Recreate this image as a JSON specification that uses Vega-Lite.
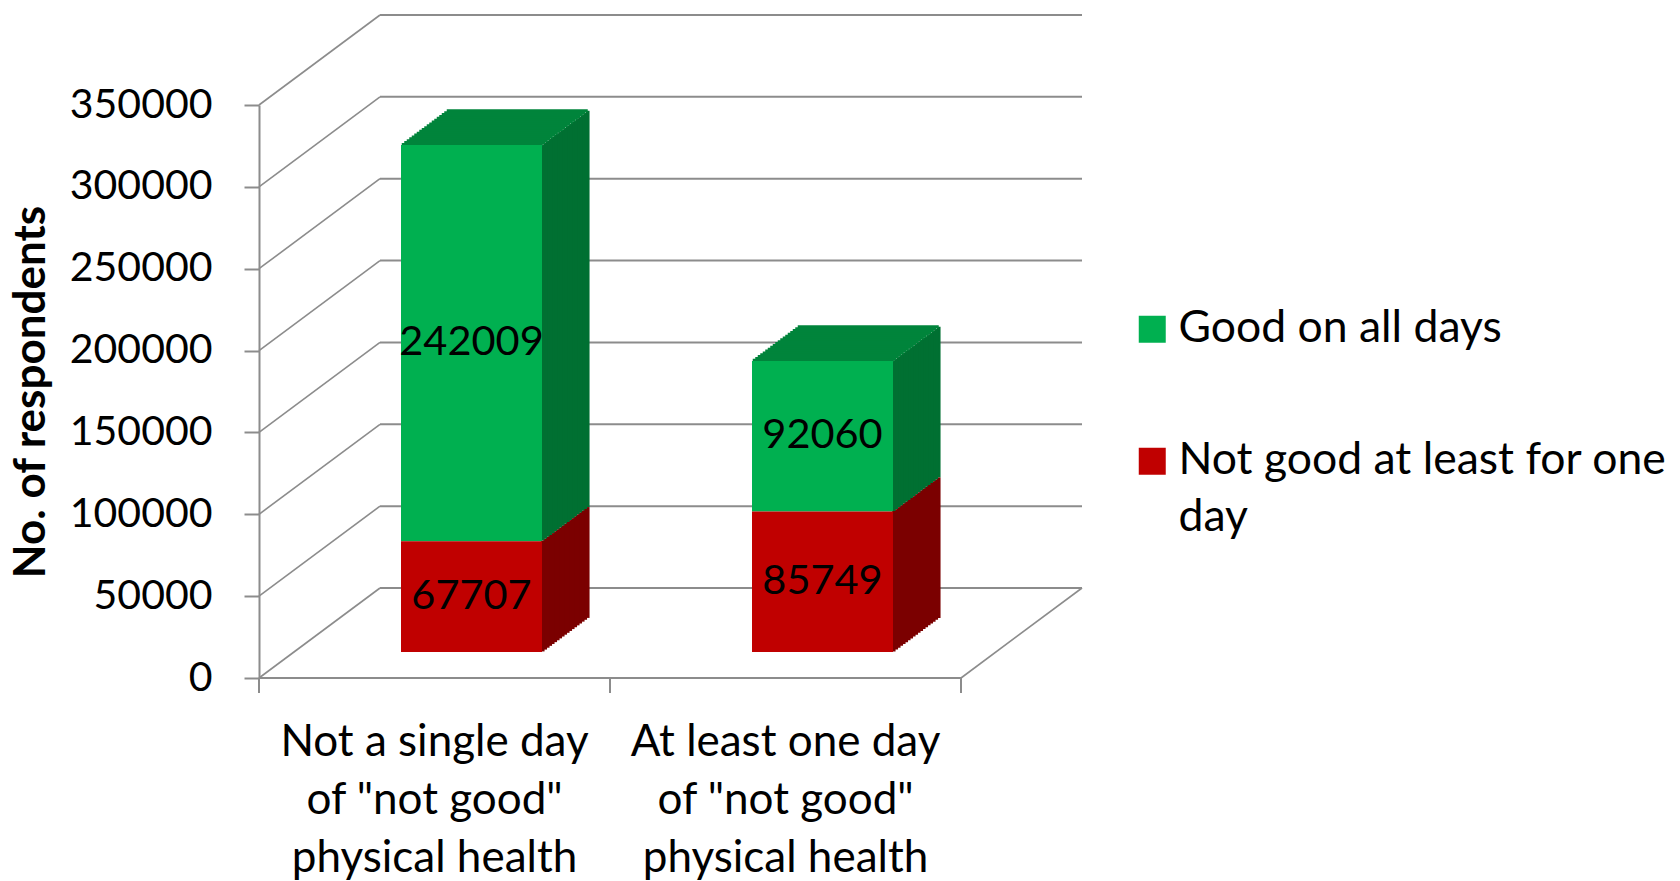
{
  "$schema": "https://vega.github.io/schema/vega-lite/v6.json",
  "width": 702,
  "height": 573,
  "autosize": {"type": "none"},
  "padding": {"left": 259, "top": 105, "right": 719, "bottom": 203},
  "background": "white",
  "config": {"view": {"stroke": null}, "font": "Lato", "axis": {"grid": false}, "style": {"guide-label": {"lineHeight": 57}}},
  "datasets": {
    "counts": [
      {"category": "Not a single day\nof \"not good\"\nphysical health", "status": "Good on all days", "count": 242009},
      {"category": "Not a single day\nof \"not good\"\nphysical health", "status": "Not good at least for one day", "count": 67707},
      {"category": "At least one day\nof \"not good\"\nphysical health", "status": "Good on all days", "count": 92060},
      {"category": "At least one day\nof \"not good\"\nphysical health", "status": "Not good at least for one day", "count": 85749}
    ],
    "walls": [{"v": 0}, {"v": 50000}, {"v": 100000}, {"v": 150000}, {"v": 200000}, {"v": 250000}, {"v": 300000}, {"v": 350000}]
  },
  "data": {"name": "counts"},
  "transform": [
    {"stack": "count", "groupby": ["category"], "sort": [{"field": "status", "order": "descending"}], "as": ["y0", "y1"]},
    {"calculate": "(datum.y0 + datum.y1) / 2", "as": "ymid"}
  ],
  "encoding": {
    "x": {"field": "category", "type": "nominal",
          "sort": ["Not a single day\nof \"not good\"\nphysical health", "At least one day\nof \"not good\"\nphysical health"],
          "scale": {"paddingInner": 0, "paddingOuter": 0},
          "axis": null}
  },
  "layer": [
    {"data": {"name": "walls"},
     "mark": {"type": "rule", "xOffset": 121, "x2Offset": 121, "yOffset": -90, "color": "#8c8c8c", "strokeWidth": 2},
     "encoding": {"x": {"datum": "Not a single day\nof \"not good\"\nphysical health", "type": "nominal", "bandPosition": 0, "axis": null},
                  "x2": {"datum": "At least one day\nof \"not good\"\nphysical health", "bandPosition": 1},
                  "y": {"field": "v", "type": "quantitative", "scale": {"domain": [0, 350000], "nice": false}}}},
    {"data": {"name": "walls"},
     "mark": {"type": "rule", "x2Offset": 121, "y2Offset": -90, "color": "#8c8c8c", "strokeWidth": 1.6},
     "encoding": {"x": {"datum": "Not a single day\nof \"not good\"\nphysical health", "type": "nominal", "bandPosition": 0, "axis": null},
                  "x2": {"datum": "Not a single day\nof \"not good\"\nphysical health", "bandPosition": 0},
                  "y": {"field": "v", "type": "quantitative"}, "y2": {"field": "v"}}},
    {"data": {"name": "walls"},
     "transform": [{"filter": "datum.v == 0"}],
     "mark": {"type": "rule", "x2Offset": 121, "y2Offset": -90, "color": "#8c8c8c", "strokeWidth": 1.6},
     "encoding": {"x": {"datum": "At least one day\nof \"not good\"\nphysical health", "type": "nominal", "bandPosition": 1, "axis": null},
                  "x2": {"datum": "At least one day\nof \"not good\"\nphysical health", "bandPosition": 1},
                  "y": {"field": "v", "type": "quantitative"}, "y2": {"field": "v"}}},
    {"data": {"name": "walls"},
     "transform": [{"filter": "datum.v == 0"}],
     "mark": {"type": "rule", "color": "#8c8c8c", "strokeWidth": 2},
     "encoding": {"x": {"datum": "Not a single day\nof \"not good\"\nphysical health", "type": "nominal", "bandPosition": 0, "axis": null},
                  "x2": {"datum": "At least one day\nof \"not good\"\nphysical health", "bandPosition": 1},
                  "y": {"field": "v", "type": "quantitative"}}},
    {"data": {"name": "walls"},
     "transform": [{"filter": "datum.v == 0"}],
     "mark": {"type": "rule", "y2Offset": 15, "color": "#8c8c8c", "strokeWidth": 2},
     "encoding": {"x": {"datum": "Not a single day\nof \"not good\"\nphysical health", "type": "nominal", "bandPosition": 0, "axis": null},
                  "y": {"field": "v", "type": "quantitative"}, "y2": {"field": "v"}}},
    {"data": {"name": "walls"},
     "transform": [{"filter": "datum.v == 0"}],
     "mark": {"type": "rule", "y2Offset": 15, "color": "#8c8c8c", "strokeWidth": 2},
     "encoding": {"x": {"datum": "At least one day\nof \"not good\"\nphysical health", "type": "nominal", "bandPosition": 0, "axis": null},
                  "y": {"field": "v", "type": "quantitative"}, "y2": {"field": "v"}}},
    {"data": {"name": "walls"},
     "transform": [{"filter": "datum.v == 0"}],
     "mark": {"type": "rule", "y2Offset": 15, "color": "#8c8c8c", "strokeWidth": 2},
     "encoding": {"x": {"datum": "At least one day\nof \"not good\"\nphysical health", "type": "nominal", "bandPosition": 1, "axis": null},
                  "y": {"field": "v", "type": "quantitative"}, "y2": {"field": "v"}}},
    {"transform": [{"filter": "datum.status == 'Good on all days'"}],
     "mark": {"type": "text", "font": "Lato", "fontSize": 44, "color": "black", "align": "center", "baseline": "alphabetic", "lineBreak": "\n", "lineHeight": 58, "dy": 78},
     "encoding": {"y": {"datum": 0, "type": "quantitative"}, "text": {"field": "category", "type": "nominal"}}},
    {"mark": {"type": "rule", "xOffset": 153.25, "yOffset": -60.08, "y2Offset": -60.08, "strokeWidth": 3.6}, "encoding": {"y": {"field": "y0", "type": "quantitative"}, "y2": {"field": "y1"}, "color": {"condition": {"test": "datum.status == 'Good on all days'", "value": "#007032"}, "value": "#7B0000"}}},
    {"transform": [{"filter": "datum.status == 'Good on all days'"}], "mark": {"type": "tick", "orient": "horizontal", "size": 141, "thickness": 3, "opacity": 1, "xOffset": 82.75, "yOffset": -60.08, "color": "#00843B"}, "encoding": {"y": {"field": "y1", "type": "quantitative"}}},
    {"mark": {"type": "rule", "xOffset": 150.75, "yOffset": -58.22, "y2Offset": -58.22, "strokeWidth": 3.6}, "encoding": {"y": {"field": "y0", "type": "quantitative"}, "y2": {"field": "y1"}, "color": {"condition": {"test": "datum.status == 'Good on all days'", "value": "#007032"}, "value": "#7B0000"}}},
    {"transform": [{"filter": "datum.status == 'Good on all days'"}], "mark": {"type": "tick", "orient": "horizontal", "size": 141, "thickness": 3, "opacity": 1, "xOffset": 80.25, "yOffset": -58.22, "color": "#00843B"}, "encoding": {"y": {"field": "y1", "type": "quantitative"}}},
    {"mark": {"type": "rule", "xOffset": 148.25, "yOffset": -56.36, "y2Offset": -56.36, "strokeWidth": 3.6}, "encoding": {"y": {"field": "y0", "type": "quantitative"}, "y2": {"field": "y1"}, "color": {"condition": {"test": "datum.status == 'Good on all days'", "value": "#007032"}, "value": "#7B0000"}}},
    {"transform": [{"filter": "datum.status == 'Good on all days'"}], "mark": {"type": "tick", "orient": "horizontal", "size": 141, "thickness": 3, "opacity": 1, "xOffset": 77.75, "yOffset": -56.36, "color": "#00843B"}, "encoding": {"y": {"field": "y1", "type": "quantitative"}}},
    {"mark": {"type": "rule", "xOffset": 145.75, "yOffset": -54.5, "y2Offset": -54.5, "strokeWidth": 3.6}, "encoding": {"y": {"field": "y0", "type": "quantitative"}, "y2": {"field": "y1"}, "color": {"condition": {"test": "datum.status == 'Good on all days'", "value": "#007032"}, "value": "#7B0000"}}},
    {"transform": [{"filter": "datum.status == 'Good on all days'"}], "mark": {"type": "tick", "orient": "horizontal", "size": 141, "thickness": 3, "opacity": 1, "xOffset": 75.25, "yOffset": -54.5, "color": "#00843B"}, "encoding": {"y": {"field": "y1", "type": "quantitative"}}},
    {"mark": {"type": "rule", "xOffset": 143.25, "yOffset": -52.63, "y2Offset": -52.63, "strokeWidth": 3.6}, "encoding": {"y": {"field": "y0", "type": "quantitative"}, "y2": {"field": "y1"}, "color": {"condition": {"test": "datum.status == 'Good on all days'", "value": "#007032"}, "value": "#7B0000"}}},
    {"transform": [{"filter": "datum.status == 'Good on all days'"}], "mark": {"type": "tick", "orient": "horizontal", "size": 141, "thickness": 3, "opacity": 1, "xOffset": 72.75, "yOffset": -52.63, "color": "#00843B"}, "encoding": {"y": {"field": "y1", "type": "quantitative"}}},
    {"mark": {"type": "rule", "xOffset": 140.75, "yOffset": -50.77, "y2Offset": -50.77, "strokeWidth": 3.6}, "encoding": {"y": {"field": "y0", "type": "quantitative"}, "y2": {"field": "y1"}, "color": {"condition": {"test": "datum.status == 'Good on all days'", "value": "#007032"}, "value": "#7B0000"}}},
    {"transform": [{"filter": "datum.status == 'Good on all days'"}], "mark": {"type": "tick", "orient": "horizontal", "size": 141, "thickness": 3, "opacity": 1, "xOffset": 70.25, "yOffset": -50.77, "color": "#00843B"}, "encoding": {"y": {"field": "y1", "type": "quantitative"}}},
    {"mark": {"type": "rule", "xOffset": 138.25, "yOffset": -48.91, "y2Offset": -48.91, "strokeWidth": 3.6}, "encoding": {"y": {"field": "y0", "type": "quantitative"}, "y2": {"field": "y1"}, "color": {"condition": {"test": "datum.status == 'Good on all days'", "value": "#007032"}, "value": "#7B0000"}}},
    {"transform": [{"filter": "datum.status == 'Good on all days'"}], "mark": {"type": "tick", "orient": "horizontal", "size": 141, "thickness": 3, "opacity": 1, "xOffset": 67.75, "yOffset": -48.91, "color": "#00843B"}, "encoding": {"y": {"field": "y1", "type": "quantitative"}}},
    {"mark": {"type": "rule", "xOffset": 135.75, "yOffset": -47.05, "y2Offset": -47.05, "strokeWidth": 3.6}, "encoding": {"y": {"field": "y0", "type": "quantitative"}, "y2": {"field": "y1"}, "color": {"condition": {"test": "datum.status == 'Good on all days'", "value": "#007032"}, "value": "#7B0000"}}},
    {"transform": [{"filter": "datum.status == 'Good on all days'"}], "mark": {"type": "tick", "orient": "horizontal", "size": 141, "thickness": 3, "opacity": 1, "xOffset": 65.25, "yOffset": -47.05, "color": "#00843B"}, "encoding": {"y": {"field": "y1", "type": "quantitative"}}},
    {"mark": {"type": "rule", "xOffset": 133.25, "yOffset": -45.18, "y2Offset": -45.18, "strokeWidth": 3.6}, "encoding": {"y": {"field": "y0", "type": "quantitative"}, "y2": {"field": "y1"}, "color": {"condition": {"test": "datum.status == 'Good on all days'", "value": "#007032"}, "value": "#7B0000"}}},
    {"transform": [{"filter": "datum.status == 'Good on all days'"}], "mark": {"type": "tick", "orient": "horizontal", "size": 141, "thickness": 3, "opacity": 1, "xOffset": 62.75, "yOffset": -45.18, "color": "#00843B"}, "encoding": {"y": {"field": "y1", "type": "quantitative"}}},
    {"mark": {"type": "rule", "xOffset": 130.75, "yOffset": -43.32, "y2Offset": -43.32, "strokeWidth": 3.6}, "encoding": {"y": {"field": "y0", "type": "quantitative"}, "y2": {"field": "y1"}, "color": {"condition": {"test": "datum.status == 'Good on all days'", "value": "#007032"}, "value": "#7B0000"}}},
    {"transform": [{"filter": "datum.status == 'Good on all days'"}], "mark": {"type": "tick", "orient": "horizontal", "size": 141, "thickness": 3, "opacity": 1, "xOffset": 60.25, "yOffset": -43.32, "color": "#00843B"}, "encoding": {"y": {"field": "y1", "type": "quantitative"}}},
    {"mark": {"type": "rule", "xOffset": 128.25, "yOffset": -41.46, "y2Offset": -41.46, "strokeWidth": 3.6}, "encoding": {"y": {"field": "y0", "type": "quantitative"}, "y2": {"field": "y1"}, "color": {"condition": {"test": "datum.status == 'Good on all days'", "value": "#007032"}, "value": "#7B0000"}}},
    {"transform": [{"filter": "datum.status == 'Good on all days'"}], "mark": {"type": "tick", "orient": "horizontal", "size": 141, "thickness": 3, "opacity": 1, "xOffset": 57.75, "yOffset": -41.46, "color": "#00843B"}, "encoding": {"y": {"field": "y1", "type": "quantitative"}}},
    {"mark": {"type": "rule", "xOffset": 125.75, "yOffset": -39.6, "y2Offset": -39.6, "strokeWidth": 3.6}, "encoding": {"y": {"field": "y0", "type": "quantitative"}, "y2": {"field": "y1"}, "color": {"condition": {"test": "datum.status == 'Good on all days'", "value": "#007032"}, "value": "#7B0000"}}},
    {"transform": [{"filter": "datum.status == 'Good on all days'"}], "mark": {"type": "tick", "orient": "horizontal", "size": 141, "thickness": 3, "opacity": 1, "xOffset": 55.25, "yOffset": -39.6, "color": "#00843B"}, "encoding": {"y": {"field": "y1", "type": "quantitative"}}},
    {"mark": {"type": "rule", "xOffset": 123.25, "yOffset": -37.73, "y2Offset": -37.73, "strokeWidth": 3.6}, "encoding": {"y": {"field": "y0", "type": "quantitative"}, "y2": {"field": "y1"}, "color": {"condition": {"test": "datum.status == 'Good on all days'", "value": "#007032"}, "value": "#7B0000"}}},
    {"transform": [{"filter": "datum.status == 'Good on all days'"}], "mark": {"type": "tick", "orient": "horizontal", "size": 141, "thickness": 3, "opacity": 1, "xOffset": 52.75, "yOffset": -37.73, "color": "#00843B"}, "encoding": {"y": {"field": "y1", "type": "quantitative"}}},
    {"mark": {"type": "rule", "xOffset": 120.75, "yOffset": -35.87, "y2Offset": -35.87, "strokeWidth": 3.6}, "encoding": {"y": {"field": "y0", "type": "quantitative"}, "y2": {"field": "y1"}, "color": {"condition": {"test": "datum.status == 'Good on all days'", "value": "#007032"}, "value": "#7B0000"}}},
    {"transform": [{"filter": "datum.status == 'Good on all days'"}], "mark": {"type": "tick", "orient": "horizontal", "size": 141, "thickness": 3, "opacity": 1, "xOffset": 50.25, "yOffset": -35.87, "color": "#00843B"}, "encoding": {"y": {"field": "y1", "type": "quantitative"}}},
    {"mark": {"type": "rule", "xOffset": 118.25, "yOffset": -34.01, "y2Offset": -34.01, "strokeWidth": 3.6}, "encoding": {"y": {"field": "y0", "type": "quantitative"}, "y2": {"field": "y1"}, "color": {"condition": {"test": "datum.status == 'Good on all days'", "value": "#007032"}, "value": "#7B0000"}}},
    {"transform": [{"filter": "datum.status == 'Good on all days'"}], "mark": {"type": "tick", "orient": "horizontal", "size": 141, "thickness": 3, "opacity": 1, "xOffset": 47.75, "yOffset": -34.01, "color": "#00843B"}, "encoding": {"y": {"field": "y1", "type": "quantitative"}}},
    {"mark": {"type": "rule", "xOffset": 115.75, "yOffset": -32.15, "y2Offset": -32.15, "strokeWidth": 3.6}, "encoding": {"y": {"field": "y0", "type": "quantitative"}, "y2": {"field": "y1"}, "color": {"condition": {"test": "datum.status == 'Good on all days'", "value": "#007032"}, "value": "#7B0000"}}},
    {"transform": [{"filter": "datum.status == 'Good on all days'"}], "mark": {"type": "tick", "orient": "horizontal", "size": 141, "thickness": 3, "opacity": 1, "xOffset": 45.25, "yOffset": -32.15, "color": "#00843B"}, "encoding": {"y": {"field": "y1", "type": "quantitative"}}},
    {"mark": {"type": "rule", "xOffset": 113.25, "yOffset": -30.28, "y2Offset": -30.28, "strokeWidth": 3.6}, "encoding": {"y": {"field": "y0", "type": "quantitative"}, "y2": {"field": "y1"}, "color": {"condition": {"test": "datum.status == 'Good on all days'", "value": "#007032"}, "value": "#7B0000"}}},
    {"transform": [{"filter": "datum.status == 'Good on all days'"}], "mark": {"type": "tick", "orient": "horizontal", "size": 141, "thickness": 3, "opacity": 1, "xOffset": 42.75, "yOffset": -30.28, "color": "#00843B"}, "encoding": {"y": {"field": "y1", "type": "quantitative"}}},
    {"mark": {"type": "rule", "xOffset": 110.75, "yOffset": -28.42, "y2Offset": -28.42, "strokeWidth": 3.6}, "encoding": {"y": {"field": "y0", "type": "quantitative"}, "y2": {"field": "y1"}, "color": {"condition": {"test": "datum.status == 'Good on all days'", "value": "#007032"}, "value": "#7B0000"}}},
    {"transform": [{"filter": "datum.status == 'Good on all days'"}], "mark": {"type": "tick", "orient": "horizontal", "size": 141, "thickness": 3, "opacity": 1, "xOffset": 40.25, "yOffset": -28.42, "color": "#00843B"}, "encoding": {"y": {"field": "y1", "type": "quantitative"}}},
    {"mark": {"type": "rule", "xOffset": 108.25, "yOffset": -26.56, "y2Offset": -26.56, "strokeWidth": 3.6}, "encoding": {"y": {"field": "y0", "type": "quantitative"}, "y2": {"field": "y1"}, "color": {"condition": {"test": "datum.status == 'Good on all days'", "value": "#007032"}, "value": "#7B0000"}}},
    {"transform": [{"filter": "datum.status == 'Good on all days'"}], "mark": {"type": "tick", "orient": "horizontal", "size": 141, "thickness": 3, "opacity": 1, "xOffset": 37.75, "yOffset": -26.56, "color": "#00843B"}, "encoding": {"y": {"field": "y1", "type": "quantitative"}}},
    {"mark": {"type": "bar", "width": 141, "xOffset": 37, "x2Offset": 37, "yOffset": -26, "y2Offset": -26},
     "encoding": {
       "y": {"field": "y1", "type": "quantitative", "scale": {"domain": [0, 350000], "nice": false},
             "axis": {"title": "No. of respondents", "titleFont": "Lato", "titleFontSize": 44, "titleFontWeight": "bold", "titleColor": "black", "titlePadding": 16,
                      "values": [0, 50000, 100000, 150000, 200000, 250000, 300000, 350000], "format": "d",
                      "labelFont": "Lato", "labelFontSize": 41, "labelColor": "black", "labelPadding": 32,
                      "tickSize": 15, "tickColor": "#8c8c8c", "tickWidth": 2, "domainColor": "#8c8c8c", "domainWidth": 2, "grid": false}},
       "y2": {"field": "y0"},
       "color": {"field": "status", "type": "nominal",
                 "scale": {"domain": ["Good on all days", "Not good at least for one day"], "range": ["#00B050", "#C00000"]},
                 "legend": {"title": null, "orient": "none", "legendX": 871, "legendY": 202, "padding": 0,
                            "symbolType": "square", "symbolSize": 729, "symbolStrokeWidth": 0,
                            "labelFont": "Lato", "labelFontSize": 44.5, "labelColor": "black", "labelLimit": 800, "labelOffset": 4, "rowPadding": 87,
                            "labelExpr": "datum.label == 'Not good at least for one day' ? ['Not good at least for one', 'day'] : datum.label"}}
     }},
    {"mark": {"type": "text", "font": "Lato", "fontSize": 41.5, "color": "black", "dx": 37, "dy": -26, "baseline": "middle", "align": "center"},
     "encoding": {"y": {"field": "ymid", "type": "quantitative"}, "text": {"field": "count", "type": "quantitative", "format": "d"}}}
  ]
}
